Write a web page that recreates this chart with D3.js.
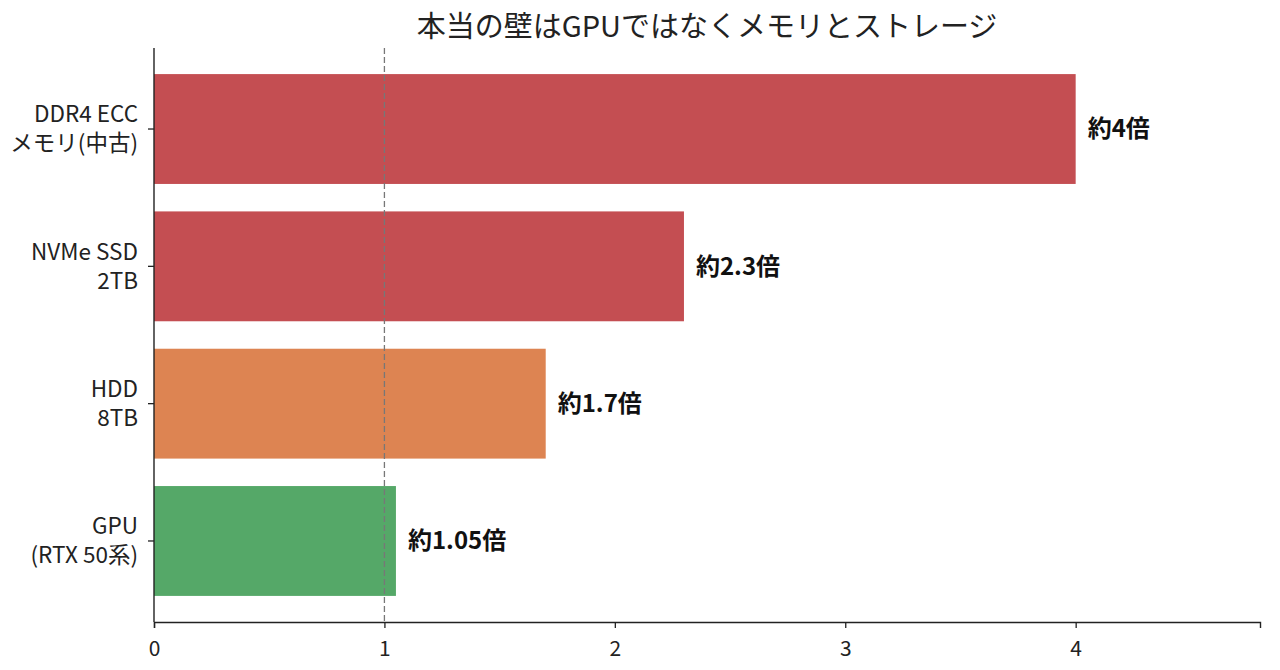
<!DOCTYPE html>
<html>
<head>
<meta charset="utf-8">
<script src="https://cdn.jsdelivr.net/npm/d3@7"></script>
<style>
  body { margin: 0; background: #fff; font-family: "Noto Sans CJK JP", "Noto Sans", sans-serif; }
</style>
</head>
<body>
<svg id="chart" width="1280" height="670"></svg>
<script>
// data
var categories = ["DDR4 ECC\nメモリ(中古)", "NVMe SSD\n2TB", "HDD\n8TB", "GPU\n(RTX 50系)"];
var values = [4, 2.3, 1.7, 1.05];
var valueLabels = ["約4倍", "約2.3倍", "約1.7倍", "約1.05倍"];
var colors = ["#c44e52", "#c44e52", "#dd8452", "#55a868"];
var xTicks = [0, 1, 2, 3, 4];
var title = "本当の壁はGPUではなくメモリとストレージ";

var svg = d3.select("#chart");
var marginL = 154, marginR = 1260, marginT = 48, marginB = 622;
var fontFam = "'Noto Sans CJK JP', 'Noto Sans', sans-serif";

var x = d3.scaleLinear().domain([0, 4.8]).range([marginL, marginR]);
var y = d3.scaleBand().domain(categories).range([marginT, marginB])
  .paddingInner(0.2).paddingOuter(0.19);

// title
svg.append("text")
  .attr("x", 707)
  .attr("y", 37)
  .attr("text-anchor", "middle")
  .style("font-family", fontFam)
  .style("font-size", "29px")
  .style("fill", "#222")
  .text(title);

// bars
svg.selectAll("rect.bar")
  .data(values)
  .enter()
  .append("rect")
  .attr("class", "bar")
  .attr("x", x(0))
  .attr("y", function(d, i) { return y(categories[i]); })
  .attr("width", function(d) { return x(d) - x(0); })
  .attr("height", y.bandwidth())
  .attr("fill", function(d, i) { return colors[i]; });

// reference line at 1
svg.append("line")
  .attr("x1", x(1)).attr("x2", x(1))
  .attr("y1", marginT).attr("y2", marginB)
  .attr("stroke", "#777")
  .attr("stroke-width", 1.3)
  .attr("stroke-dasharray", "6,3");

// value labels
svg.selectAll("text.val")
  .data(values)
  .enter()
  .append("text")
  .attr("class", "val")
  .attr("x", function(d) { return x(d) + 12; })
  .attr("y", function(d, i) { return y(categories[i]) + y.bandwidth() / 2; })
  .attr("dy", "0.35em")
  .style("font-family", fontFam)
  .style("font-size", "24px")
  .style("font-weight", "bold")
  .style("fill", "#111")
  .text(function(d, i) { return valueLabels[i]; });

// x axis
var xAxis = svg.append("g")
  .attr("transform", "translate(0," + marginB + ")")
  .call(d3.axisBottom(x).tickValues(xTicks).tickFormat(d3.format("d")).tickSize(6).tickPadding(8));
xAxis.select(".domain").attr("stroke", "#222").attr("stroke-width", 1.4);
xAxis.selectAll(".tick line").attr("stroke", "#222").attr("stroke-width", 1.3);
xAxis.selectAll(".tick text").remove();
xAxis.selectAll(".tick").append("text")
  .attr("y", 34)
  .attr("text-anchor", "middle")
  .style("font-family", fontFam)
  .style("font-size", "21px")
  .attr("fill", "#222")
  .text(function(d) { return d; });

// y axis
var yAxis = svg.append("g")
  .attr("transform", "translate(" + marginL + ",0)")
  .call(d3.axisLeft(y).tickSize(6).tickPadding(6).tickFormat(""));
yAxis.select(".domain").attr("d", "M0," + marginT + "V" + marginB).attr("stroke", "#222").attr("stroke-width", 1.4);
yAxis.selectAll(".tick line").attr("stroke", "#222").attr("stroke-width", 1.3);
yAxis.selectAll(".tick text").remove();

yAxis.selectAll(".tick").each(function(d) {
  var lines = d.split("\n");
  var t = d3.select(this).append("text")
    .attr("text-anchor", "end")
    .style("font-family", fontFam)
    .style("font-size", "22.5px")
    .attr("fill", "#222");
  lines.forEach(function(l, i) {
    t.append("tspan")
      .attr("x", -16)
      .attr("y", (i - (lines.length - 1) / 2) * 29)
      .attr("dy", "0.35em")
      .text(l);
  });
});
</script>
</body>
</html>
